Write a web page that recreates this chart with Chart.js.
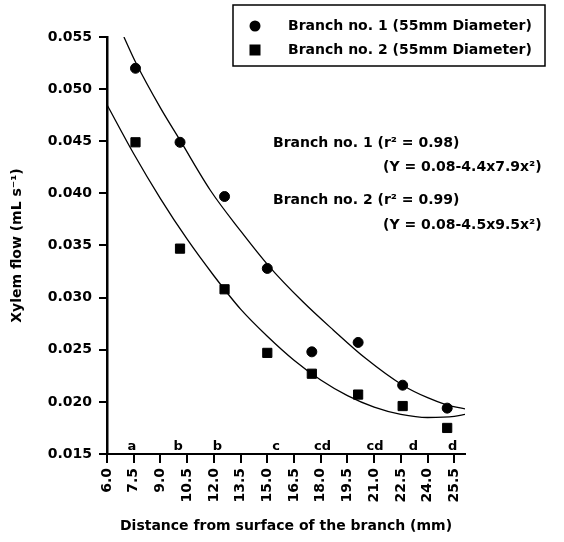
<!DOCTYPE html>
<html>
<head>
<meta charset="utf-8">
<script src="https://cdn.jsdelivr.net/npm/chart.js@4.4.1/dist/chart.umd.min.js"></script>
<style>
  html, body { margin: 0; padding: 0; background: #fff; }
  #wrap { width: 564px; height: 542px; }
</style>
</head>
<body>
<div id="wrap"><canvas id="chart"></canvas></div>
<script>
// measured points (distance mm, flow mL/s)
const distance = [7.6, 10.1, 12.6, 15.0, 17.5, 20.1, 22.6, 25.1]
const branch1 = [0.0520, 0.0449, 0.0397, 0.0328, 0.0248, 0.0257, 0.0216, 0.0194]
const branch2 = [0.0449, 0.0347, 0.0308, 0.0247, 0.0227, 0.0207, 0.0196, 0.0175]

// regression curves
const fit1X = [6.95, 7.6, 9.0, 10.1, 11.8, 13.5, 15.05, 17.0, 18.7, 20.5, 22.6, 24.0, 25.1, 26.2]
const fit1Y = [0.0550, 0.0526, 0.0482, 0.0451, 0.0403, 0.0364, 0.0331, 0.0296, 0.0269, 0.0242, 0.0216, 0.0204, 0.0197, 0.0193]
const fit2X = [6.0, 7.5, 9.0, 10.5, 12.0, 13.5, 15.0, 16.5, 18.0, 19.5, 21.0, 22.5, 24.0, 25.5, 26.1]
const fit2Y = [0.0485, 0.0438, 0.0395, 0.0356, 0.0321, 0.0289, 0.0263, 0.0240, 0.0221, 0.0206, 0.0195, 0.0188, 0.0185, 0.0186, 0.0188]

// significance letters under the points
const letters = ['a', 'b', 'b', 'c', 'cd', 'cd', 'd', 'd']
const letterX = [7.4, 10.0, 12.2, 15.5, 18.1, 21.05, 23.2, 25.4]

const xTicks = [6.0, 7.5, 9.0, 10.5, 12.0, 13.5, 15.0, 16.5, 18.0, 19.5, 21.0, 22.5, 24.0, 25.5]
const yTicks = [0.015, 0.020, 0.025, 0.030, 0.035, 0.040, 0.045, 0.050, 0.055]

const legendLabels = ['Branch no. 1 (55mm Diameter)', 'Branch no. 2 (55mm Diameter)']
const noteLines = [
    'Branch no. 1 (r\u00B2 = 0.98)',
    '(Y = 0.08-4.4x7.9x\u00B2)',
    'Branch no. 2 (r\u00B2 = 0.99)',
    '(Y = 0.08-4.5x9.5x\u00B2)'
]

const toPoints = (xs, ys) => xs.map((x, i) => ({ x: x, y: ys[i] }))

Chart.defaults.font.family = 'DejaVu Sans'
Chart.defaults.font.weight = 'bold'
Chart.defaults.font.size = 14
Chart.defaults.color = '#000'

const extras = {
    id: 'extras',
    afterDraw(chart) {
        const ctx = chart.ctx
        const xs = chart.scales.x
        ctx.save()
        ctx.fillStyle = '#000'
        ctx.strokeStyle = '#000'

        // legend box
        ctx.lineWidth = 1.5
        ctx.strokeRect(233, 5, 312, 61)
        ctx.beginPath()
        ctx.arc(255, 26, 5.5, 0, Math.PI * 2)
        ctx.fill()
        ctx.fillRect(249.5, 44.5, 11, 11)
        ctx.font = 'bold 14px DejaVu Sans'
        ctx.textBaseline = 'middle'
        ctx.textAlign = 'left'
        ctx.fillText(legendLabels[0], 288, 26)
        ctx.fillText(legendLabels[1], 288, 50)

        // regression notes
        ctx.fillText(noteLines[0], 273, 143)
        ctx.fillText(noteLines[1], 383, 167)
        ctx.fillText(noteLines[2], 273, 200)
        ctx.fillText(noteLines[3], 383, 225)

        // letters
        ctx.font = 'bold 13px DejaVu Sans'
        ctx.textAlign = 'center'
        ctx.textBaseline = 'alphabetic'
        const base = chart.scales.y.getPixelForValue(yTicks[0]) - 4
        letters.forEach((l, i) => {
            ctx.fillText(l, xs.getPixelForValue(letterX[i]), base)
        })
        ctx.restore()
    }
}

const ctx = document.getElementById('chart').getContext('2d')
const chart = new Chart(ctx, {
    type: 'scatter',
    data: {
        datasets: [{
            label: legendLabels[0],
            data: toPoints(distance, branch1),
            pointStyle: 'circle',
            pointRadius: 5,
            backgroundColor: '#000',
            borderColor: '#000',
        }, {
            label: legendLabels[1],
            data: toPoints(distance, branch2),
            pointStyle: 'rect',
            pointRadius: 6.5,
            backgroundColor: '#000',
            borderColor: '#000',
        }, {
            data: toPoints(fit1X, fit1Y),
            showLine: true,
            pointRadius: 0,
            borderColor: '#000',
            borderWidth: 1.3,
            cubicInterpolationMode: 'monotone',
        }, {
            data: toPoints(fit2X, fit2Y),
            showLine: true,
            pointRadius: 0,
            borderColor: '#000',
            borderWidth: 1.3,
            cubicInterpolationMode: 'monotone',
        }]
    },
    options: {
        responsive: true,
        maintainAspectRatio: false,
        animation: false,
        layout: { padding: { left: 0, top: 37, right: 99, bottom: 0 } },
        plugins: {
            legend: { display: false },
            tooltip: { enabled: false },
        },
        scales: {
            x: {
                type: 'linear',
                min: 6.0,
                max: 26.1,
                afterBuildTicks: (scale) => { scale.ticks = xTicks.map(v => ({ value: v })) },
                afterFit: (scale) => { scale.height = 88 },
                border: { display: true, width: 2, color: '#000' },
                grid: { drawOnChartArea: false, drawTicks: true, tickLength: 9, color: '#000', lineWidth: 2 },
                ticks: {
                    autoSkip: false,
                    minRotation: 90,
                    maxRotation: 90,
                    padding: 5,
                    callback: (v) => Number(v).toFixed(1),
                },
                title: {
                    display: true,
                    text: 'Distance from surface of the branch (mm)',
                    padding: { top: 0, bottom: 7 },
                },
            },
            y: {
                min: 0.015,
                max: 0.055,
                afterBuildTicks: (scale) => { scale.ticks = yTicks.map(v => ({ value: v })) },
                afterFit: (scale) => { scale.width = 107 },
                border: { display: true, width: 2.5, color: '#000' },
                grid: { drawOnChartArea: false, drawTicks: true, tickLength: 8, color: '#000', lineWidth: 2 },
                ticks: {
                    padding: 7,
                    callback: (v) => Number(v).toFixed(3),
                },
                title: {
                    display: true,
                    text: 'Xylem flow (mL s\u207B\u00B9)',
                    padding: { top: 9, bottom: 0 },
                },
            }
        }
    },
    plugins: [extras]
})
</script>
</body>
</html>
